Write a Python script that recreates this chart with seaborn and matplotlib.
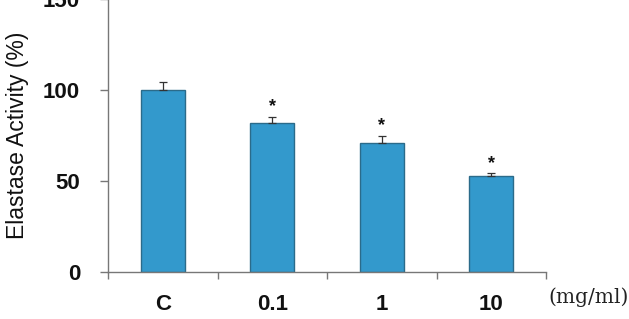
import matplotlib
matplotlib.use("Agg")
import matplotlib.pyplot as plt
import seaborn as sns
import pandas as pd
import numpy as np

categories = ["C", "0.1", "1", "10"]
activity = [100.0, 82.0, 71.0, 52.7]
errors = [4.6, 3.3, 3.7, 1.5]
significant = [False, True, True, True]
yticks = [0, 50, 100, 150]

sns.set_theme(style="white")
plt.rcParams['font.family'] = ['Liberation Sans', 'DejaVu Sans']

df = pd.DataFrame({"dose": categories, "activity": activity})

fig = plt.figure(figsize=(6.29, 3.19), dpi=100)
ax = fig.add_axes([108/629, 1 - 271.7/319, (546-108)/629, 271.7/319 + 0.003])

sns.barplot(data=df, x="dose", y="activity", ax=ax, color="#3399CC",
            saturation=1, width=0.4, edgecolor="#2b6b8a", linewidth=1.0,
            errorbar=None)

xs = np.arange(len(categories))
ax.errorbar(xs, activity, yerr=[np.zeros(len(errors)), errors], fmt="none",
            ecolor="#333333", elinewidth=0.9, capsize=3, capthick=0.9)

for x, v, e, s in zip(xs, activity, errors, significant):
    if s:
        ax.text(x, v + e + 5.5, "*", ha="center", va="center",
                fontsize=13, fontweight="bold", color="#111111")

ax.set_xlim(-0.5, len(categories) - 0.5)
ax.set_ylim(0, 150)
ax.set_yticks(yticks)
ax.set_yticklabels([str(t) for t in yticks], fontsize=16, fontweight="bold", color="#111111")
ax.set_xticks(xs)
ax.set_xticklabels(categories, fontsize=16, fontweight="bold", color="#111111")
ax.set_xticks(np.arange(-0.5, len(categories), 1.0), minor=True)
ax.tick_params(axis="x", which="major", length=0, pad=16)
ax.tick_params(axis="x", which="minor", length=5, width=1, color="#777777", direction="out", bottom=True)
ax.tick_params(axis="y", which="major", length=6, width=1, color="#777777", direction="out", left=True, pad=14)
ax.set_xlabel("")
ax.set_ylabel("Elastase Activity (%)", fontsize=16.5, color="#111111", labelpad=10)

for side in ["top", "right"]:
    ax.spines[side].set_visible(False)
for side in ["left", "bottom"]:
    ax.spines[side].set_color("#777777")
    ax.spines[side].set_linewidth(1.0)

fig.text(548/629, 1 - 297/319, "(mg/ml)", ha="left", va="center",
         fontsize=14.5, family="DejaVu Serif", color="#222222")

fig.savefig("out.png", dpi=100)
